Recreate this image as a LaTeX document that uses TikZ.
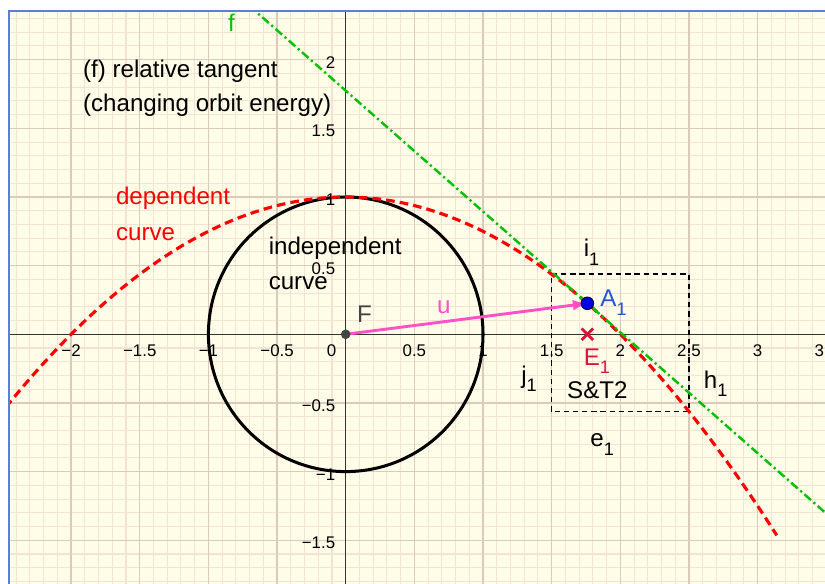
\documentclass[tikz,border=0pt]{standalone}
\usepackage{fontspec}
\setmainfont{Liberation Sans}
\usepackage{tikz}
\usetikzlibrary{arrows,arrows.meta}
\definecolor{paper}{HTML}{FFFDE8}
\definecolor{minorline}{HTML}{F4E2D2}
\definecolor{majorline}{HTML}{DCCBBA}
\definecolor{frameblue}{HTML}{5B7FD6}
\definecolor{tangentgreen}{HTML}{00C000}
\definecolor{vecpink}{HTML}{FF50C8}
\definecolor{crimson}{HTML}{DC143C}
\definecolor{pointblue}{HTML}{0000E6}
\definecolor{labelblue}{HTML}{2255DD}
\definecolor{focusgray}{HTML}{444444}
\newcommand{\sub}[1]{\raisebox{-3.5pt}{\fontsize{7.5}{8}\selectfont #1}}
\newcommand{\ticksize}{\fontsize{7}{8}\selectfont}
\tikzstyle{minorgrid} = [minorline, line width=0.45pt]
\tikzstyle{majorgrid} = [majorline, line width=0.55pt]
\tikzstyle{axis} = [black!80, line width=0.5pt]
\tikzstyle{depcurve} = [red, line width=1.3pt, dash pattern=on 3.6pt off 2.1pt]
\tikzstyle{indcurve} = [black, line width=1.25pt]
\tikzstyle{tangent} = [tangentgreen, line width=1pt, dash pattern=on 3.6pt off 1.4pt on 0.9pt off 1.4pt]
\tikzstyle{stbox} = [black, line width=0.65pt, dash pattern=on 2.2pt off 1.6pt]
\tikzstyle{vec} = [vecpink, line width=1.2pt, -{Latex[length=6pt,width=4.5pt]}]
\tikzstyle{ticklbl} = [font=\ticksize, inner sep=0pt]

\begin{document}
\begin{tikzpicture}[x=2cm,y=2cm,every node/.style={font=\normalsize,inner sep=0pt}]
    \useasboundingbox (-2.518,-1.8186) rectangle (3.4909,2.4348);
    \fill[paper] (-2.4523,-1.8186) rectangle (3.4909,2.3551);
    \begin{scope}
    \clip (-2.4523,-1.8186) rectangle (3.4909,2.3551);
    % grid and axes
    \draw[minorgrid] (-2.6,-1.9) grid[step=0.1] (3.6,2.5);
    \draw[majorgrid] (-2.6,-1.9) grid[step=0.5] (3.6,2.5);
    \draw[axis] (-2.6,0) -- (3.6,0);
    \draw[axis] (0,-1.9) -- (0,2.5);
    \foreach \x/\t [count=\i] in {-2/−2,-1.5/−1.5,-1/−1,-0.5/−0.5,0.5/0.5,1/1,1.5/1.5,2/2,2.5/2.5,3/3,3.5/3.5}{
        \node[ticklbl,anchor=base] (xt\i) at (\x,-0.163) {\t};
    }
    \node[ticklbl,anchor=base east] (xt0) at (-0.066,-0.163) {0};
    \foreach \y/\t [count=\i] in {2/2,1.5/1.5,1/1,0.5/0.5,-0.5/−0.5,-1/−1,-1.5/−1.5}{
        \node[ticklbl,anchor=base east] (yt\i) at (-0.073,\y-0.063) {\t};
    }
    % curves
    \coordinate (F) at (0,0);
    \coordinate (A1) at (1.76,0.2256);
    \coordinate (E1) at (1.76,0);
    \coordinate (f0) at (-0.8,2.4784);
    \coordinate (f1) at (3.6,-1.3936);
    \draw[stbox] (1.5,-0.5625) rectangle (2.5,0.4375);
    \draw[indcurve] (F) circle (1);
    \draw[depcurve,domain=-2.6:3.14,samples=120] plot (\x,{1-\x*\x/4});
    \draw[tangent] (f0) -- (f1);
    \draw[vec] (F) -- (A1);
    \draw[crimson,line width=1.2pt] (E1) ++(-0.042,-0.042) -- ++(0.084,0.084);
    \draw[crimson,line width=1.2pt] (E1) ++(-0.042,0.042) -- ++(0.084,-0.084);
    \fill[focusgray] (F) circle (2pt);
    \filldraw[fill=pointblue,draw=black!70!blue,line width=0.4pt] (A1) circle (2.6pt);
    % labels
    \node[tangentgreen,anchor=base] (lblf) at (-0.832,2.205) {f};
    \node[anchor=base west] (title1) at (-1.916,1.869) {(f) relative tangent};
    \node[anchor=base west] (title2) at (-1.916,1.621) {(changing orbit energy)};
    \node[red,anchor=base west] (dep1) at (-1.676,0.942) {dependent};
    \node[red,anchor=base west] (dep2) at (-1.676,0.682) {curve};
    \node[anchor=base west] (ind1) at (-0.564,0.578) {independent};
    \node[anchor=base west] (ind2) at (-0.564,0.328) {curve};
    \node[focusgray,anchor=base west] (lblF) at (0.080,0.087) {F};
    \node[vecpink,anchor=base west] (lblu) at (0.663,0.153) {u};
    \node[labelblue,anchor=base west] (lblA) at (1.852,0.201) {A\sub{1}};
    \node[crimson,anchor=base west] (lblE) at (1.731,-0.224) {E\sub{1}};
    \node[anchor=base west] (lbli) at (1.731,0.565) {i\sub{1}};
    \node[anchor=base west] (lblj) at (1.275,-0.357) {j\sub{1}};
    \node[anchor=base west] (lblh) at (2.605,-0.393) {h\sub{1}};
    \node[anchor=base west] (lble) at (1.779,-0.819) {e\sub{1}};
    \node[anchor=base west] (lblst) at (1.610,-0.466) {S\&T2};
    \end{scope}
    \draw[frameblue,line width=0.85pt] (-2.4523,-1.8186) -- (-2.4523,2.3551) -- (3.4909,2.3551);
\end{tikzpicture}
\end{document}
